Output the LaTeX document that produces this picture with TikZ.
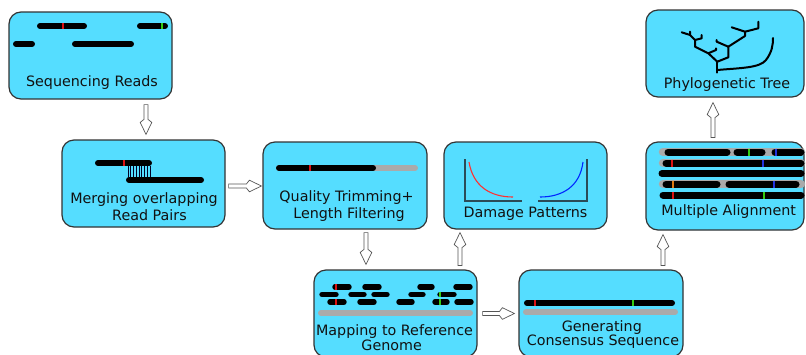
\documentclass[tikz,border=0pt]{standalone}
\usepackage{fontspec}
\setmainfont{DejaVu Sans}
\usetikzlibrary{calc}
\definecolor{boxfill}{HTML}{55DDFF}
\definecolor{boxdraw}{HTML}{333333}
\definecolor{refgray}{HTML}{AAAAAA}
\definecolor{snpred}{HTML}{DD1111}
\definecolor{snpgreen}{HTML}{33CC11}
\definecolor{snpblue}{HTML}{2233DD}
\definecolor{snporange}{HTML}{DD7711}
\definecolor{axiscol}{HTML}{2B4B57}
\definecolor{arrowgray}{HTML}{555555}
\definecolor{txt}{HTML}{111111}
\newcommand{\rseg}[4]{\draw[#1] ({#2+3},#4) -- ({#3-3},#4);}
\newcommand{\snpmark}[4]{\draw[snp,#1] (#2,{#3-#4}) -- (#2,{#3+#4});}
\begin{document}
\begin{tikzpicture}[x=1pt,y=-1pt,
  box/.style={draw=boxdraw, fill=boxfill, line width=1.2pt, rounded corners=12pt,
    minimum width=#1, minimum height=87pt, inner sep=0pt},
  lbl/.style={font=\fontsize{14.3}{17}\selectfont, text=txt, anchor=base, inner sep=0pt},
  rd/.style={line width=6pt, line cap=round, black},
  rdthin/.style={line width=5.4pt, line cap=round, black},
  rdmsa/.style={line width=7pt, line cap=round, black},
  gr/.style={line width=6pt, line cap=round, refgray},
  grmsa/.style={line width=8.5pt, line cap=round, refgray},
  snp/.style={line width=1.6pt},
  hatch/.style={line width=0.7pt, black!85!blue},
  axis/.style={line width=1.3pt, axiscol},
  branch/.style={line width=2pt, black, line cap=round, line join=round},
  harrow/.style={draw=arrowgray, fill=white, line width=0.7pt, line join=miter,
    to path={
      ($(\tikztostart)!2pt!90:(\tikztotarget)$)
      -- ($(\tikztotarget)!15pt!(\tikztostart)!2pt!90:(\tikztotarget)$)
      -- ($(\tikztotarget)!12pt!(\tikztostart)!5.8pt!90:(\tikztotarget)$)
      -- (\tikztotarget)
      -- ($(\tikztotarget)!12pt!(\tikztostart)!5.8pt!-90:(\tikztotarget)$)
      -- ($(\tikztotarget)!15pt!(\tikztostart)!2pt!-90:(\tikztotarget)$)
      -- ($(\tikztostart)!2pt!-90:(\tikztotarget)$) -- cycle}}
]
\useasboundingbox (0,0) rectangle (806,354);

% boxes
\node[box=163pt] (seq)   at (90.5,55.5)  {};
\node[box=163pt] (merge) at (143.5,183.5) {};
\node[box=164pt] (qual)  at (345,185.5)  {};
\node[box=163pt] (dmg)   at (525.5,185.5) {};
\node[box=158pt, minimum height=88pt] (mult) at (725,186) {};
\node[box=158pt] (phylo) at (725,53.5) {};
\node[box=163pt] (map)   at (395.5,313.5) {};
\node[box=164pt] (gen)   at (601,313.5) {};

% labels
\node[lbl] (seqL)   at (92,86)     {Sequencing Reads};
\node[lbl] (mergeL1) at (144,203.3) {Merging overlapping};
\node[lbl] (mergeL2) at (149.5,220.7) {Read Pairs};
\node[lbl] (qualL1) at (346.5,201.7) {Quality Trimming+};
\node[lbl] (qualL2) at (349,218.3)  {Length Filtering};
\node[lbl] (dmgL)   at (525.5,217.3) {Damage Patterns};
\node[lbl] (multL)  at (728.7,215)  {Multiple Alignment};
\node[lbl] (phyloL) at (727,88.3)   {Phylogenetic Tree};
\node[lbl] (mapL1)  at (394.5,335.5)  {Mapping to Reference};
\node[lbl] (mapL2)  at (391.7,350.5) {Genome};
\node[lbl] (genL1)  at (601.8,331.7) {Generating};
\node[lbl] (genL2)  at (603,345)    {Consensus Sequence};

% box 1: reads
\rseg{rd}{37}{87}{26}   \snpmark{snpred}{63}{26}{3}
\rseg{rd}{137}{168}{26} \snpmark{snpgreen}{162}{26}{3}
\rseg{rd}{13}{35}{44}
\rseg{rd}{72}{134}{44}

% box 2: merging
\rseg{rd}{95}{152}{163} \snpmark{snpred}{124}{163}{3}
\rseg{rd}{126}{204}{180}
\foreach \xx in {128,130.75,...,150.5} \draw[hatch] (\xx,166) -- (\xx,177);

% box 3: trimming
\rseg{gr}{276}{418}{168}
\rseg{rd}{276}{376}{168} \snpmark{snpred}{310}{168}{3}

% box 4: damage patterns
\draw[axis] (465,159) -- (465,201) -- (522,201);
\draw[axis] (538,201) -- (587,201) -- (587,159);
\draw[line width=1.1pt, red!75!pink] (469,162) .. controls (473,186) and (490,197) .. (513,197);
\draw[line width=1.1pt, blue!85!cyan] (540,197) .. controls (563,197) and (580,186) .. (583,162);

% box 5: multiple alignment
\rseg{grmsa}{660}{804}{152}
\rseg{rdmsa}{665}{730}{152} \rseg{rdmsa}{734}{765}{152} \rseg{rdmsa}{772}{804}{152}
\snpmark{snpgreen}{749}{152}{3.5} \snpmark{snpblue}{776}{152}{3.5}
\rseg{grmsa}{660}{804}{163}
\rseg{rdmsa}{663}{804}{163}
\snpmark{snpred}{672}{163}{3.5} \snpmark{snpblue}{763}{163}{3.5}
\rseg{rdmsa}{659}{804}{173.5}
\rseg{grmsa}{660}{804}{184}
\rseg{rdmsa}{663}{720}{184} \rseg{rdmsa}{726}{799}{184}
\snpmark{snporange}{673}{184}{3.5} \snpmark{snpblue}{774}{184}{3.5}
\rseg{rdmsa}{660}{804}{195}
\snpmark{snpred}{673}{195}{3.5} \snpmark{snpgreen}{764}{195}{3.5}

% box 6: tree
\draw[branch] (717.3,72.7) -- (717.3,61.7);
\draw[branch] (717.3,70) .. controls (740,68) and (760,68) .. (766,60) .. controls (772,52) and (773,45) .. (773,38);
\draw[branch] (717.3,61.7) -- (708.3,53.3) -- (695,46.7) -- (695,40) -- (690,35) -- (690,31.7);
\draw[branch] (690,35) -- (681.7,32.3);
\draw[branch] (695,40) -- (701.7,38.3) -- (701.7,35);
\draw[branch] (708.3,53.3) -- (716,50) -- (716,48.3);
\draw[branch] (717.3,61.7) -- (728.3,57.3) -- (728.3,46.7) -- (716.7,41.7) -- (716.7,40);
\draw[branch] (728.3,46.7) -- (745,36) -- (745,31.7) -- (731.7,27.3);
\draw[branch] (745,31.7) -- (758.3,28.3) -- (758.3,21.7);

% box 7: mapping
\rseg{gr}{318}{473}{313}
\rseg{rdthin}{332}{352}{287} \rseg{rdthin}{362}{382}{287} \rseg{rdthin}{417}{435}{287} \rseg{rdthin}{453}{473}{287}
\rseg{rdthin}{319}{339}{294.5} \rseg{rdthin}{348}{367}{294.5} \rseg{rdthin}{371}{390}{294.5} \rseg{rdthin}{408}{426}{294.5} \rseg{rdthin}{437}{457}{294.5}
\rseg{rdthin}{327}{347}{302} \rseg{rdthin}{357}{377}{302} \rseg{rdthin}{396}{415}{302} \rseg{rdthin}{432}{450}{302} \rseg{rdthin}{454}{474}{302}
\snpmark{snpred}{336}{287}{2.8} \snpmark{snpred}{336}{302}{2.8}
\snpmark{snpgreen}{440}{294.5}{2.8} \snpmark{snpgreen}{440}{302}{2.8}

% box 8: consensus
\rseg{gr}{523}{678}{312}
\rseg{rd}{524}{675}{303}
\snpmark{snpred}{535}{303}{3} \snpmark{snpgreen}{633}{303}{3}

% connectors
\coordinate (a1s) at ([xshift=55.5pt,yshift=-5pt]seq.south);
\coordinate (a1e) at ([xshift=2.5pt,yshift=5pt]merge.north);
\coordinate (a2s) at ([xshift=3pt,yshift=-2.5pt]merge.east);
\coordinate (a2e) at ([xshift=-1pt,yshift=-0.5pt]qual.west);
\coordinate (a3s) at ([xshift=21pt,yshift=-3pt]qual.south);
\coordinate (a3e) at ([xshift=-29.5pt,yshift=5pt]map.north);
\coordinate (a4s) at ([xshift=64.5pt,yshift=4pt]map.north);
\coordinate (a4e) at ([xshift=-65.5pt,yshift=-3pt]dmg.south);
\coordinate (a5s) at ([xshift=5pt]map.east);
\coordinate (a5e) at ([xshift=-4pt]gen.west);
\coordinate (a6s) at ([xshift=62pt,yshift=4pt]gen.north);
\coordinate (a6e) at ([xshift=-62pt,yshift=-4pt]mult.south);
\coordinate (a7s) at ([xshift=-12pt,yshift=4pt]mult.north);
\coordinate (a7e) at ([xshift=-12pt,yshift=-5pt]phylo.south);
\draw[harrow] (a1s) to (a1e);
\draw[harrow] (a2s) to (a2e);
\draw[harrow] (a3s) to (a3e);
\draw[harrow] (a4s) to (a4e);
\draw[harrow] (a5s) to (a5e);
\draw[harrow] (a6s) to (a6e);
\draw[harrow] (a7s) to (a7e);
\end{tikzpicture}
\end{document}
